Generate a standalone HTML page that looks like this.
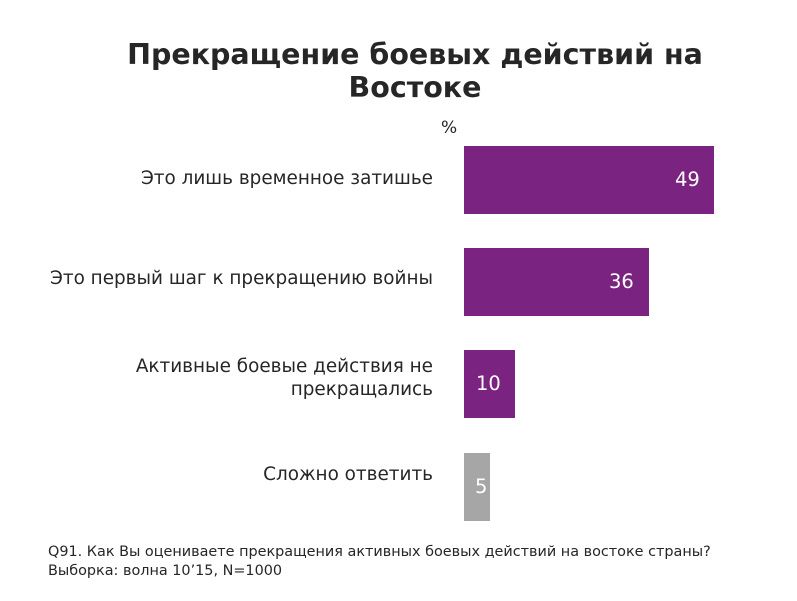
<!DOCTYPE html>
<html><head><meta charset="utf-8"><style>
body{margin:0;width:797px;height:601px;background:#fff;font-family:"DejaVu Sans","Liberation Sans",sans-serif;position:relative;overflow:hidden;color:#262626}
.t{position:absolute;left:0;width:830px;text-align:center;font-weight:bold;font-size:28.5px;line-height:33px;top:38px;white-space:nowrap}
.b{position:absolute;left:464px;height:68px}
.p{background:#7B2380}.g{background:#A6A6A6}
.v{position:absolute;color:#fff;font-size:19.5px}
.l{position:absolute;right:364px;text-align:right;font-size:18.4px;line-height:23px;white-space:nowrap}
.f{position:absolute;left:48px;font-size:14.4px;line-height:19px;white-space:nowrap}
</style></head><body>
<div class="t">Прекращение боевых действий на<br>Востоке</div>
<div style="position:absolute;left:441px;top:118px;font-size:17px">%</div>
<div class="b p" style="top:146px;width:250px"></div>
<div class="v" style="left:675px;top:168px">49</div>
<div class="b p" style="top:248px;width:185px"></div>
<div class="v" style="left:609px;top:270px">36</div>
<div class="b p" style="top:350px;width:51px"></div>
<div class="v" style="left:476px;top:372px">10</div>
<div class="b g" style="top:453px;width:26px"></div>
<div class="v" style="left:475px;top:475px">5</div>
<div class="l" style="top:167px">Это лишь временное затишье</div>
<div class="l" style="top:267px">Это первый шаг к прекращению войны</div>
<div class="l" style="top:355px">Активные боевые действия не<br>прекращались</div>
<div class="l" style="top:463px">Сложно ответить</div>
<div class="f" style="top:543px">Q91. Как Вы оцениваете прекращения активных боевых действий на востоке страны?<br>Выборка: волна 10’15, N=1000</div>
</body></html>
